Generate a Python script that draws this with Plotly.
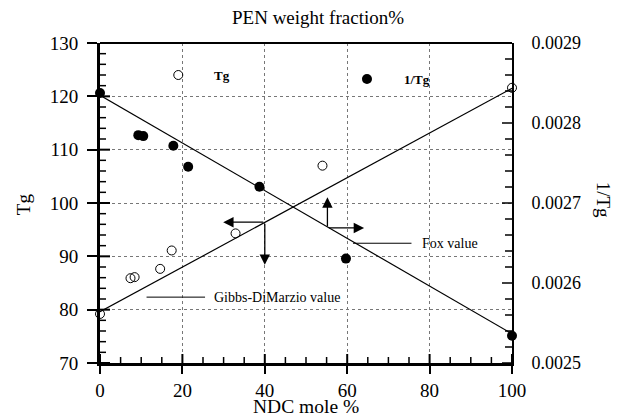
import plotly.graph_objects as go

# ---- data ----
# Tg (left axis, open circles)
tg_x = [0, 7.4, 8.4, 14.6, 17.4, 32.9, 54.0, 100]
tg_y = [79.2, 85.9, 86.1, 87.65, 91.1, 94.3, 107.0, 121.6]
# 1/Tg (right axis, filled circles)
inv_x = [0, 9.3, 10.5, 17.8, 21.4, 38.7, 59.7, 100]
inv_y = [0.0028376, 0.0027848, 0.0027836, 0.0027715, 0.0027453, 0.0027203, 0.0026305, 0.0025340]
# model lines
gd_x = [0, 100]
gd_y = [79.6, 121.5]          # Gibbs-DiMarzio (Tg axis)
fox_x = [0, 100]
fox_y = [0.0028347, 0.0025365]  # Fox (1/Tg axis)
# legend symbols
leg_tg = (19.0, 124.0)
leg_inv = (64.8, 0.0028551)
leg_tg_text = (29.5, 123.96)
leg_inv_text = (76.9, 0.0028547)
# arrows: (tip_x, tip_y, tail_x, tail_y)
arrows_tg = [(29.9, 96.4, 40.0, 96.4), (40.0, 88.4, 40.0, 96.4)]
arrows_inv = [(55.2, 0.0027071, 55.2, 0.0026688), (64.1, 0.0026688, 55.2, 0.0026688)]
# leader lines and labels
fox_leader_x = [61.4, 75.6]
fox_leader_y = 0.0026497
gd_leader_x = [11.3, 25.5]
gd_leader_y = 82.35
fox_label = (77.6, 0.0026497)
gd_label = (27.2, 82.35)

# axis tick positions
x_major = [0, 20, 40, 60, 80, 100]
x_minor = [v for v in range(5, 100, 5) if v % 20 != 0]
y_major = [70, 80, 90, 100, 110, 120, 130]
y_minor = [v for v in range(72, 130, 2) if v % 10 != 0]
y2_major = [0.0025, 0.0026, 0.0027, 0.0028, 0.0029]
y2_minor = [round(0.0025 + k * 0.00002, 6) for k in range(1, 20) if k % 5 != 0]

FONT = "Liberation Serif"

fig = go.Figure()
fig.add_trace(go.Scatter(x=gd_x, y=gd_y, mode="lines", line=dict(color="black", width=1.2),
                         showlegend=False, hoverinfo="skip"))
fig.add_trace(go.Scatter(x=fox_x, y=fox_y, mode="lines", line=dict(color="black", width=1.2),
                         yaxis="y2", showlegend=False, hoverinfo="skip"))
fig.add_trace(go.Scatter(x=tg_x + [leg_tg[0]], y=tg_y + [leg_tg[1]], mode="markers",
                         marker=dict(symbol="circle-open", size=9, color="black", line=dict(width=1)),
                         showlegend=False, cliponaxis=False))
fig.add_trace(go.Scatter(x=inv_x + [leg_inv[0]], y=inv_y + [leg_inv[1]], mode="markers",
                         marker=dict(symbol="circle", size=10, color="black"),
                         yaxis="y2", showlegend=False, cliponaxis=False))

shapes = []
# leader lines
shapes.append(dict(type="line", xref="x", yref="y2", x0=fox_leader_x[0], x1=fox_leader_x[1],
                   y0=fox_leader_y, y1=fox_leader_y, line=dict(color="black", width=1)))
shapes.append(dict(type="line", xref="x", yref="y", x0=gd_leader_x[0], x1=gd_leader_x[1],
                   y0=gd_leader_y, y1=gd_leader_y, line=dict(color="black", width=1)))
# top border
shapes.append(dict(type="line", xref="paper", yref="paper", x0=0, x1=1, y0=1, y1=1,
                   line=dict(color="black", width=2)))

def xtick(t, length, width):
    return dict(type="line", xref="x", yref="y", ysizemode="pixel", yanchor=70,
                x0=t, x1=t, y0=0, y1=length, line=dict(color="black", width=width))

def ytick(t, length, width):
    return dict(type="line", xref="x", yref="y", xsizemode="pixel", xanchor=0,
                y0=t, y1=t, x0=0, x1=length, line=dict(color="black", width=width))

def y2tick(t, length, width):
    return dict(type="line", xref="x", yref="y2", xsizemode="pixel", xanchor=100,
                y0=t, y1=t, x0=-length, x1=0, line=dict(color="black", width=width))

for t in x_major:
    shapes.append(xtick(t, 9, 2))
for t in x_minor:
    shapes.append(xtick(t, 6, 1.5))
for t in y_major:
    shapes.append(ytick(t, 10, 2))
for t in y_minor:
    shapes.append(ytick(t, 6, 1.5))
for t in y2_major:
    shapes.append(y2tick(t, 10, 1.5))
for t in y2_minor:
    shapes.append(y2tick(t, 7, 1.5))

ann = []
for (tx, ty, ax, ay) in arrows_tg:
    ann.append(dict(x=tx, y=ty, ax=ax, ay=ay, xref="x", yref="y", axref="x", ayref="y",
                    text="", showarrow=True, arrowhead=2, arrowsize=1.6, arrowwidth=1.3,
                    arrowcolor="black"))
for (tx, ty, ax, ay) in arrows_inv:
    ann.append(dict(x=tx, y=ty, ax=ax, ay=ay, xref="x", yref="y2", axref="x", ayref="y2",
                    text="", showarrow=True, arrowhead=2, arrowsize=1.6, arrowwidth=1.3,
                    arrowcolor="black"))
ann.append(dict(x=leg_tg_text[0], y=leg_tg_text[1], xref="x", yref="y", text="<b>Tg</b>",
                showarrow=False, font=dict(family=FONT, size=13, color="black")))
ann.append(dict(x=leg_inv_text[0], y=leg_inv_text[1], xref="x", yref="y2", text="<b>1/Tg</b>",
                showarrow=False, font=dict(family=FONT, size=13, color="black")))
ann.append(dict(x=fox_label[0], y=fox_label[1], xref="x", yref="y2", text="Fox value",
                xanchor="left", showarrow=False, font=dict(family=FONT, size=14, color="black")))
ann.append(dict(x=gd_label[0], y=gd_label[1], xref="x", yref="y", text="Gibbs-DiMarzio value",
                xanchor="left", showarrow=False, font=dict(family=FONT, size=14, color="black")))
# titles
ann.append(dict(x=0.529, y=1.080, xref="paper", yref="paper", text="PEN weight fraction%",
                xanchor="center", yanchor="middle",
                showarrow=False, font=dict(family=FONT, size=19, color="black")))
ann.append(dict(x=0.5, y=-0.136, xref="paper", yref="paper", text="NDC mole %",
                xanchor="center", yanchor="middle", borderpad=0,
                showarrow=False, font=dict(family=FONT, size=19.5, color="black")))
ann.append(dict(x=-0.184, y=0.497, xref="paper", yref="paper", text="Tg", textangle=-90,
                xanchor="center", yanchor="middle",
                showarrow=False, font=dict(family=FONT, size=19, color="black")))
ann.append(dict(x=1.222, y=0.509, xref="paper", yref="paper", text="1/Tg", textangle=90,
                xanchor="center", yanchor="middle",
                showarrow=False, font=dict(family=FONT, size=19, color="black")))

fig.update_layout(
    width=620, height=417,
    margin=dict(l=100, r=108, t=43, b=54),
    paper_bgcolor="white", plot_bgcolor="white",
    font=dict(family=FONT, color="black", size=19),
    shapes=shapes, annotations=ann,
    xaxis=dict(range=[0, 100], tickvals=x_major, ticks="outside",
               ticklen=8, tickwidth=2,
               tickcolor="black", showline=True, linecolor="black", linewidth=3,
               showgrid=True, gridcolor="#777", griddash="dot", gridwidth=1,
               zeroline=False, tickfont=dict(family=FONT, size=19)),
    yaxis=dict(range=[70, 130], tickvals=y_major, ticks="outside",
               ticklen=10, tickwidth=2,
               tickcolor="black", showline=True, linecolor="black", linewidth=3,
               showgrid=True, gridcolor="#777", griddash="dot", gridwidth=1,
               zeroline=False, ticklabelstandoff=5, tickfont=dict(family=FONT, size=19)),
    yaxis2=dict(range=[0.0025, 0.0029], overlaying="y", side="right",
                tickvals=y2_major, tickformat=".4f", ticks="",
                showline=True, linecolor="black", linewidth=2, showgrid=False, zeroline=False,
                ticklabelstandoff=14, tickfont=dict(family=FONT, size=18)),
    showlegend=False,
)

fig.write_html("out.html")
